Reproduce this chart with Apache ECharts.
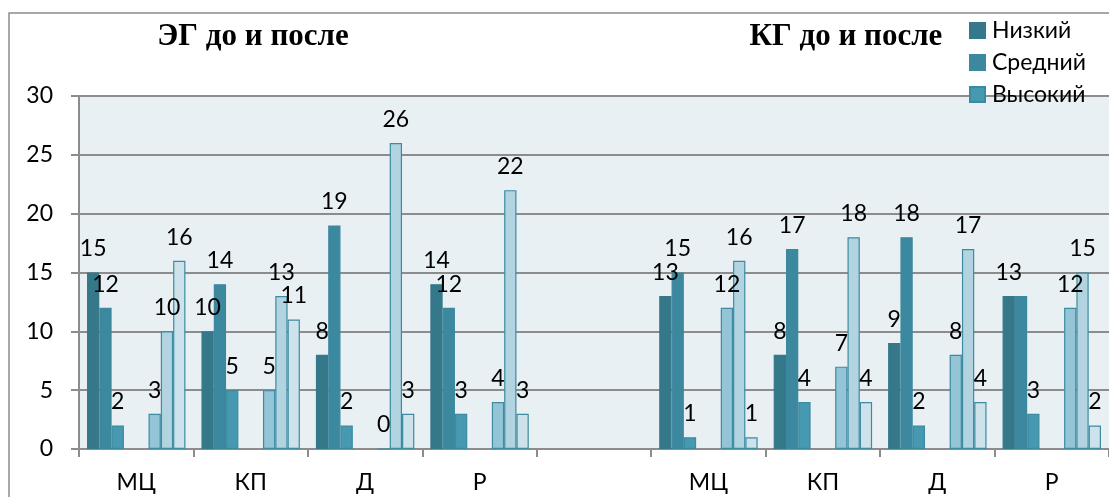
<!DOCTYPE html>
<html>
<head>
<meta charset="utf-8">
<script src="https://cdn.jsdelivr.net/npm/echarts@6/dist/echarts.min.js"></script>
<style>
  html, body { margin: 0; padding: 0; background: #fff; }
  #chart { width: 1109px; height: 497px; }
</style>
</head>
<body>
<div id="chart"></div>
<script>
// categories: left half is ЭГ, right half is КГ, blank slot between
var categories = ['МЦ', 'КП', 'Д', 'Р', '', 'МЦ', 'КП', 'Д', 'Р'];
var yTicks = [0, 5, 10, 15, 20, 25, 30];

// "до"
var lowBefore  = [15, 10, 8, 14, null, 13, 8, 9, 13];
var midBefore  = [12, 14, 19, 12, null, 15, 17, 18, 13];
var highBefore = [2, 5, 2, 3, null, 1, 4, 2, 3];
// "после"
var lowAfter  = [3, 5, 0, 4, null, 12, 7, 8, 12];
var midAfter  = [10, 13, 26, 22, null, 16, 18, 17, 15];
var highAfter = [16, 11, 3, 3, null, 1, 4, 4, 2];
var emptySlot = [null, null, null, null, null, null, null, null, null];

// in the original the "13" of Средний (КГ, Р) sits under the Низкий one
var midBeforeHiddenLabels = [8];

var labelFont = 'Lato, "Open Sans", sans-serif';

function bar(name, data, fill, border, hidden) {
    hidden = hidden || [];
    return {
        name: name,
        type: 'bar',
        data: data.map(function (v, i) {
            return hidden.indexOf(i) >= 0 ? { value: v, label: { show: false } } : v;
        }),
        barGap: '0%',
        barCategoryGap: '14%',
        itemStyle: {
            color: fill,
            borderColor: border,
            borderWidth: 1.2
        },
        label: {
            show: true,
            position: 'top',
            distance: 12,
            color: '#000',
            fontSize: 23,
            fontFamily: labelFont
        }
    };
}

var chart = echarts.init(document.getElementById('chart'));
chart.setOption({
    animation: false,
    backgroundColor: '#fff',
    title: [{
        text: 'ЭГ до и после',
        left: 253,
        top: 21,
        padding: 0,
        textAlign: 'center',
        textStyle: { fontFamily: '"Liberation Serif", serif', fontWeight: 'bold', fontSize: 31, color: '#000' }
    }, {
        text: 'КГ до и после',
        left: 846,
        top: 21,
        padding: 0,
        textAlign: 'center',
        textStyle: { fontFamily: '"Liberation Serif", serif', fontWeight: 'bold', fontSize: 31, color: '#000' }
    }],
    legend: {
        orient: 'vertical',
        left: 969,
        top: 19,
        padding: 0,
        itemWidth: 15,
        itemHeight: 15,
        itemGap: 9,
        icon: 'rect',
        data: ['Низкий', 'Средний', 'Высокий'],
        textStyle: { fontFamily: labelFont, fontSize: 23, color: '#000', lineHeight: 18, padding: [0, 0, 0, 2] }
    },
    graphic: [{
        type: 'rect',
        shape: { x: 9, y: 13, width: 1200, height: 600 },
        style: { fill: 'none', stroke: '#8c8c8c', lineWidth: 1.5 },
        silent: true,
        z: -1
    }],
    grid: {
        left: 79,
        right: -9,
        top: 96,
        bottom: 48,
        show: true,
        backgroundColor: '#e9f0f4',
        borderWidth: 0
    },
    xAxis: {
        type: 'category',
        data: categories,
        axisLine: { lineStyle: { color: '#8c8c8c', width: 2 } },
        axisTick: { show: true, length: 8, lineStyle: { color: '#8c8c8c', width: 2 } },
        axisLabel: { color: '#000', fontSize: 23, fontFamily: labelFont, margin: 22 }
    },
    yAxis: {
        type: 'value',
        min: 0,
        max: 30,
        interval: 5,
        axisLine: { show: true, lineStyle: { color: '#8c8c8c', width: 2 } },
        axisTick: { show: true, length: 8, lineStyle: { color: '#8c8c8c', width: 2 } },
        axisLabel: { color: '#000', fontSize: 23, fontFamily: labelFont, margin: 26,
            formatter: function (v) { return yTicks.indexOf(v) >= 0 ? String(v) : ''; } },
        splitLine: { lineStyle: { color: '#8c8c8c', width: 2 } }
    },
    series: [
        bar('Низкий', lowBefore, '#34788a', '#34788a'),
        bar('Средний', midBefore, '#3c889e', '#3c889e', midBeforeHiddenLabels),
        bar('Высокий', highBefore, '#4699b1', '#3a8aa0'),
        bar('-', emptySlot, 'none', 'none'),
        bar('--', emptySlot, 'none', 'none'),
        bar('Низкий после', lowAfter, '#94c5d7', '#3d8ba1'),
        bar('Средний после', midAfter, '#b1d4e0', '#3d8ba1'),
        bar('Высокий после', highAfter, '#cde2ea', '#3d8ba1')
    ]
});
</script>
</body>
</html>
